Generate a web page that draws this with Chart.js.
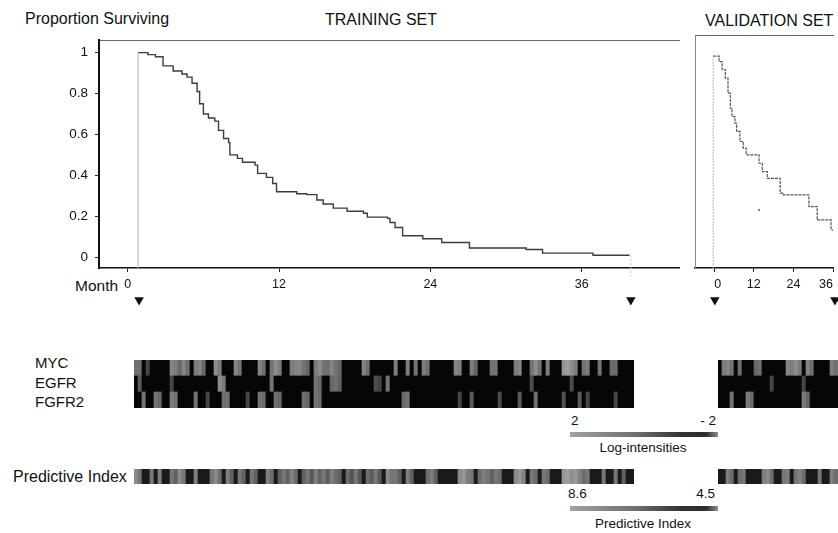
<!DOCTYPE html>
<html><head><meta charset="utf-8">
<script src="https://cdn.jsdelivr.net/npm/chart.js@4.4.1/dist/chart.umd.min.js"></script>
<style>
html,body{margin:0;padding:0;background:#fff;overflow:hidden;width:838px;height:533px;}
body{position:relative;font-family:"Liberation Sans",Arial,sans-serif;color:#111;}
.t{position:absolute;white-space:nowrap;line-height:1;}
canvas{position:absolute;}
</style></head><body>
<div class="t" style="left:25px;top:10.5px;font-size:16px">Proportion Surviving</div>
<div class="t" style="left:325px;top:12px;font-size:16px">TRAINING SET</div>
<div class="t" style="left:705px;top:12.5px;font-size:16px">VALIDATION SET</div>
<div class="t" style="left:75px;top:278px;font-size:15.5px">Month</div>
<div class="t" style="left:35px;top:355px;font-size:15px">MYC</div>
<div class="t" style="left:35px;top:375px;font-size:15px">EGFR</div>
<div class="t" style="left:35px;top:394px;font-size:15px">FGFR2</div>
<div class="t" style="left:13px;top:468.5px;font-size:16px">Predictive Index</div>
<div class="t" style="left:571px;top:413.6px;font-size:13.5px">2</div>
<div class="t" style="right:122px;top:413.6px;font-size:13.5px">- 2</div>
<div class="t" style="left:643px;top:441.3px;font-size:13.5px;transform:translateX(-50%)">Log-intensities</div>
<div class="t" style="left:568px;top:487px;font-size:13.5px">8.6</div>
<div class="t" style="right:123px;top:487px;font-size:13.5px">4.5</div>
<div class="t" style="left:643px;top:516.6px;font-size:13.5px;transform:translateX(-50%)">Predictive Index</div>

<canvas id="kmT" width="640" height="267" style="left:40px;top:25px"></canvas>
<canvas id="kmV" width="158" height="267" style="left:680px;top:25px"></canvas>
<canvas id="mkT" width="581" height="22" style="left:99px;top:289px"></canvas>
<canvas id="mkV" width="143" height="22" style="left:695px;top:289px"></canvas>
<canvas id="hmT" width="500" height="48" style="left:134px;top:360px"></canvas>
<canvas id="hmV" width="120" height="48" style="left:718px;top:360px"></canvas>
<canvas id="piT" width="500" height="15" style="left:134px;top:469px"></canvas>
<canvas id="piV" width="120" height="15" style="left:718px;top:469px"></canvas>
<canvas id="cbLog" width="148" height="5" style="left:570px;top:432px"></canvas>
<canvas id="cbPI" width="148" height="5" style="left:570px;top:506px"></canvas>
<script>
// ---------- Kaplan-Meier data (months, proportion surviving) ----------
const trainMonths = [0.82,1.6,2.2,2.8,3.6,4.3,4.7,5.1,5.5,5.7,6.0,6.4,6.9,7.2,7.6,8.0,8.1,8.7,9.1,10.1,10.3,11.0,11.5,11.8,13.4,14.2,15.0,15.5,16.3,17.4,18.7,19.0,20.6,20.8,21.2,21.8,23.4,24.9,27.1,31.6,32.9,36.9,39.8];
const trainSurv   = [1.0,0.99,0.98,0.935,0.91,0.895,0.88,0.85,0.81,0.75,0.70,0.68,0.665,0.62,0.58,0.56,0.50,0.483,0.464,0.45,0.41,0.39,0.36,0.32,0.31,0.306,0.28,0.26,0.24,0.225,0.215,0.196,0.19,0.17,0.145,0.105,0.09,0.072,0.045,0.038,0.02,0.01,0.01];
const valMonths = [-0.3,1.5,2.4,3.4,4.2,4.9,5.4,6.3,6.8,7.8,8.8,9.7,13.6,14.6,16.1,20.0,21.0,28.7,31.2,35.4,36];
const valSurv   = [0.96,0.934,0.895,0.855,0.783,0.711,0.671,0.64,0.60,0.552,0.52,0.488,0.448,0.408,0.376,0.305,0.297,0.241,0.177,0.13,0.13];
const valCensorMonths = [13.6];
const valCensorSurv = [0.225];
const trainEndMonth = 39.9;
const trainMarkMonths = [0.9, 39.9];   // ▼ start / end of follow-up
const valMarkMonths = [0, 35.1];
const survTicks = [0,0.2,0.4,0.6,0.8,1];
const trainMonthTicks = [0,12,24,36];
const valMonthTicks = [0,12,24,36];
const trainRange = [-2.28, 43.8];
const valRange = [-5.8, 36];

// ---------- Heat map data (log-intensities, one value per patient) ----------
const geneNames = ['MYC','EGFR','FGFR2'];
const trainMYC = [
0.5,0.5,-2,-0.5,-2,-2,-2,-2,-2,1.0,0.8,0.3,1.0,0.5,-2,0.8,1.0,0.3,-2,-2,1.2,0.8,-2,-2,-2,
1.0,0.6,-2,-2,-2,-2,1.0,0.5,-2,0.6,1.2,0.8,-2,-2,0.8,1.0,1.0,0.6,0.3,-2,0.8,1.2,0.6,0.5,1.0,
0.6,0.3,-2,-2,-2,-2,-2,1.0,0.5,-2,-2,-2,-2,-2,-2,0.8,-2,-2,0.8,-2,0.6,-2,0.8,0.5,-2,
-2,-2,-2,-2,-2,1.0,0.8,-2,-2,0.8,0.3,-2,-2,-2,0.6,0.6,-2,-2,-2,-2,0.8,1.0,-2,-2,0.6,
1.2,0.6,-2,0.8,-2,-2,-2,1.4,1.6,1.2,0.8,-2,0.6,0.8,-2,-2,0.6,-2,-2,0.4,0.4,-2,-2,-2,-2];
const trainEGFR = [
-2,0.0,-2,-2,-2,-2,-2,-2,-2,-0.5,-2,-2,-2,-2,-2,-2,-2,-2,-2,-2,-2,1.2,0.8,-2,-2,
-2,-2,-2,-2,-2,-2,-2,-2,-2,0.6,-2,-2,-2,-2,-2,-2,-2,-2,-2,-2,0.6,0.3,-2,-2,0.3,
0.5,0.2,-2,-2,-2,-2,-2,-2,-2,-2,-0.3,-0.5,-2,0.6,-2,-2,-2,-2,-2,-2,-2,-2,-2,-2,-2,
-2,-2,-2,-2,-2,-2,-2,-2,-2,-2,-2,-2,-2,-2,-2,-2,-2,-2,-2,-2,-2,-2,-2,-2,-0.3,
-2,-2,-2,-2,-2,-2,-2,-2,-2,-0.3,-2,-2,-2,-2,-2,-2,-2,-2,-2,-2,-2,-2,-2,-2,-2];
const trainFGFR2 = [
-2,-2,0.6,-2,-2,0.6,0.3,-2,-2,0.8,0.6,-2,-2,-2,-2,0.6,-2,-2,-0.5,-2,-2,-2,0.5,0.6,-2,
-2,-2,-2,-0.5,-2,-2,0.6,0.4,-2,-2,0.5,0.3,-2,-2,-2,-2,-2,0.5,0.3,-2,0.6,0.4,-2,-2,-2,
-2,-2,-2,-2,-2,-2,-2,-2,-2,-2,-2,-2,-2,-2,-2,-2,-2,0.4,0.6,-2,-2,-2,-2,-2,-2,
-2,-2,-2,-2,-2,-2,-0.5,-2,-2,0.0,-2,-2,-2,-2,-2,-2,-0.3,-2,-2,-2,-2,0.0,-2,-2,-2,
0.5,-2,-2,-2,-2,-2,-2,-0.2,-2,-2,-2,0.0,-2,-0.5,-2,-2,-2,-2,-2,-2,-0.5,-2,-2,-2,-2];
const trainPI = [
7.5,7.0,4.8,4.8,7.0,4.8,7.2,4.8,4.8,7.0,6.5,7.5,7.0,4.8,4.8,7.2,4.8,4.8,4.8,7.0,7.5,6.8,4.8,7.2,6.5,
4.8,7.0,6.5,4.8,7.0,6.5,4.8,4.8,7.2,6.8,4.8,6.5,7.0,6.5,7.3,6.8,4.8,6.5,7.0,6.3,7.2,6.6,7.0,6.4,7.2,
6.8,6.5,4.8,6.8,6.2,7.0,6.3,4.8,6.8,6.4,7.0,6.3,4.8,7.5,7.0,7.0,6.5,4.8,7.2,6.5,4.8,4.8,4.8,6.8,7.2,
6.5,4.8,4.8,4.8,4.8,4.8,7.5,7.8,7.2,7.0,4.8,6.8,7.2,7.0,6.5,7.0,6.8,4.8,4.8,4.8,7.5,7.8,7.3,4.8,7.0,
6.8,4.8,7.0,6.8,4.8,4.8,4.8,7.8,8.0,7.6,7.8,7.3,6.8,7.0,4.8,4.8,4.8,7.0,4.8,4.8,7.0,4.8,6.5,4.8,4.8];
const valMYC   = [-2,0.8,1.0,0.6,-2,0.5,-2,-2,-2,0.3,0.5,-2,-2,-2,-2,-2,-2,1.0,0.8,1.2,0.8,-2,1.0,0.5,-2,-2,-2,-2,0.8,0.5];
const valEGFR  = [-2,-2,-2,-2,-2,-2,-2,-2,-2,-2,-2,-2,-2,-0.5,-2,-2,-2,-2,-2,-2,-2,-0.5,-2,-2,-2,-2,-2,-2,-2,-2];
const valFGFR2 = [-2,-2,-2,0.6,-2,-2,-2,0.8,0.4,-2,-2,-2,-2,-2,-2,-2,-2,-2,-2,-2,-2,0.8,0.3,-2,-2,-2,-2,-2,-2,-2];
const valPI    = [4.8,4.8,7.2,6.8,4.8,6.8,7.0,4.8,4.8,4.8,4.8,7.2,7.5,6.8,4.8,4.8,7.0,7.2,4.8,7.0,7.3,6.8,4.8,4.8,4.8,7.0,4.8,4.8,7.2,6.8];
const logRange = [2, -2];
const piRange = [8.6, 4.5];

// ---------- helpers ----------
Chart.defaults.font.family = "'Liberation Sans', Arial, sans-serif";
Chart.defaults.color = '#111';
function grayCss(g){ g=Math.max(0,Math.min(255,Math.round(g))); return 'rgb('+g+','+g+','+g+')'; }
function logColor(v){ return grayCss(6 + (v - logRange[1]) / (logRange[0] - logRange[1]) * 168); }
function piColor(p){ return grayCss(14 + (p - piRange[1]) / (piRange[0] - piRange[1]) * 170); }
const pts = (xs, ys) => xs.map((x,i)=>({x:x, y:ys[i]}));
const noPlugins = {legend:{display:false}, tooltip:{enabled:false}, title:{display:false}};
const base = {responsive:false, animation:false, devicePixelRatio:1, layout:{padding:0, autoPadding:false}, plugins:noPlugins};

function kmOptions(range, xTicks, yAxisOpts, xAlign){
  return Object.assign({}, base, {
    scales:{
      x:{type:'linear', position:'bottom', min:range[0], max:range[1],
         afterBuildTicks:s=>{ s.ticks = xTicks.map(v=>({value:v})); },
         afterFit:s=>{ s.height = 24; },
         grid:{display:true, drawOnChartArea:false, drawTicks:true, tickLength:4, color:'#222'},
         border:{display:true, color:'#111', width:1.5},
         ticks:{font:{size:12.5}, color:'#111', padding:5, maxRotation:0, autoSkip:false, align:xAlign, callback:v=>String(v)}},
      xTop:{type:'linear', position:'top', min:range[0], max:range[1],
         grid:{display:false}, ticks:{display:false},
         border:{display:true, color:'#666', width:1, dash:[2,1]},
         afterFit:s=>{ s.height = 10; }},
      y:yAxisOpts
    }
  });
}

// Training survival curve
new Chart(document.getElementById('kmT'), {
  type:'scatter',
  data:{datasets:[
    {data:pts([trainMonths[0],trainMonths[0]],[-0.0526,trainSurv[0]]), showLine:true, borderColor:'#b8b8b8', borderWidth:1, pointRadius:0},
    {data:pts(trainMonths,trainSurv), showLine:true, stepped:true, borderColor:'#3c3c3c', borderWidth:1.4, pointRadius:0},
    {data:pts([trainEndMonth,trainEndMonth],[trainSurv[trainSurv.length-1],-0.095]), showLine:true, borderColor:'#c4c4c4', borderWidth:1, borderDash:[2,2], pointRadius:0, clip:false}
  ]},
  options:kmOptions(trainRange, trainMonthTicks, {
    type:'linear', min:-0.0526, max:1.061,
    afterBuildTicks:s=>{ s.ticks = survTicks.map(v=>({value:v})); },
    afterFit:s=>{ s.width = 59; },
    grid:{display:true, drawOnChartArea:false, drawTicks:true, tickLength:4, color:'#222'},
    border:{display:true, color:'#111', width:2},
    ticks:{font:{size:13.5}, color:'#111', padding:7, callback:v=>String(v)}
  }, 'center')
});

// Validation survival curve
new Chart(document.getElementById('kmV'), {
  type:'scatter',
  data:{datasets:[
    {data:pts([valMonths[0],valMonths[0]],[-0.0526,valSurv[0]]), showLine:true, borderColor:'#b8b8b8', borderWidth:1, borderDash:[2,1], pointRadius:0},
    {data:pts(valMonths,valSurv), showLine:true, stepped:true, borderColor:'#555', borderWidth:1.2, borderDash:[3,1], pointRadius:0},
    {data:pts(valCensorMonths,valCensorSurv), pointRadius:1, backgroundColor:'#555', borderWidth:0}
  ]},
  options:kmOptions(valRange, valMonthTicks, {
    type:'linear', min:-0.0526, max:1.061,
    afterFit:s=>{ s.width = 15; },
    grid:{display:false}, ticks:{display:false},
    border:{display:true, color:'#888', width:1, dash:[1,2]}
  }, 'inner')
});

// ▼ follow-up markers, on the same month scales as the curves above
function markerChart(id, range, months){
  new Chart(document.getElementById(id), {
    type:'scatter',
    data:{datasets:[{data:months.map(m=>({x:m, y:0.5})), pointStyle:'triangle', rotation:180, pointRadius:5.5,
      backgroundColor:'#111', borderColor:'#111', borderWidth:0, clip:false}]},
    options:Object.assign({}, base, {scales:{x:{type:'linear', display:false, min:range[0], max:range[1]}, y:{display:false, min:0, max:1}}})
  });
}
markerChart('mkT', trainRange, trainMarkMonths);
markerChart('mkV', valRange, valMarkMonths);

// Heat maps (stacked unit bars, colour = value)
function heatChart(id, rowsTopToBottom, colorFn){
  const n = rowsTopToBottom[0].length;
  const labels = Array.from({length:n}, (_, i) => 'P' + (i + 1));
  const datasets = rowsTopToBottom.slice().reverse().map(r => ({
    data: r.map(() => 1),
    backgroundColor: r.map(colorFn),
    borderWidth: 0, barPercentage: 1, categoryPercentage: 1
  }));
  new Chart(document.getElementById(id), {
    type:'bar', data:{labels:labels, datasets:datasets},
    options:Object.assign({}, base, {scales:{x:{stacked:true, display:false}, y:{stacked:true, display:false, min:0, max:rowsTopToBottom.length}}})
  });
}
heatChart('hmT', [trainMYC, trainEGFR, trainFGFR2], logColor);
heatChart('hmV', [valMYC, valEGFR, valFGFR2], logColor);
heatChart('piT', [trainPI], piColor);
heatChart('piV', [valPI], piColor);

// Colour bars
function colorBar(id, range){
  new Chart(document.getElementById(id), {
    type:'bar',
    data:{labels:[''], datasets:[{
      data:[[range[1], range[0]]], borderWidth:0, barPercentage:1, categoryPercentage:1,
      backgroundColor:(c)=>{
        const a = c.chart.chartArea; if(!a) return '#777';
        const g = c.chart.ctx.createLinearGradient(a.left,0,a.right,0);
        g.addColorStop(0,'#a2a2a2'); g.addColorStop(0.45,'#6e6e6e'); g.addColorStop(0.75,'#333');
        g.addColorStop(0.92,'#2c2c2c'); g.addColorStop(1,'#8c8c8c');
        return g;
      }}]},
    options:Object.assign({}, base, {indexAxis:'y',
      scales:{x:{display:false, min:Math.min(range[0],range[1]), max:Math.max(range[0],range[1]), reverse:true}, y:{display:false}}})
  });
}
colorBar('cbLog', logRange);
colorBar('cbPI', piRange);
</script>
</body></html>
